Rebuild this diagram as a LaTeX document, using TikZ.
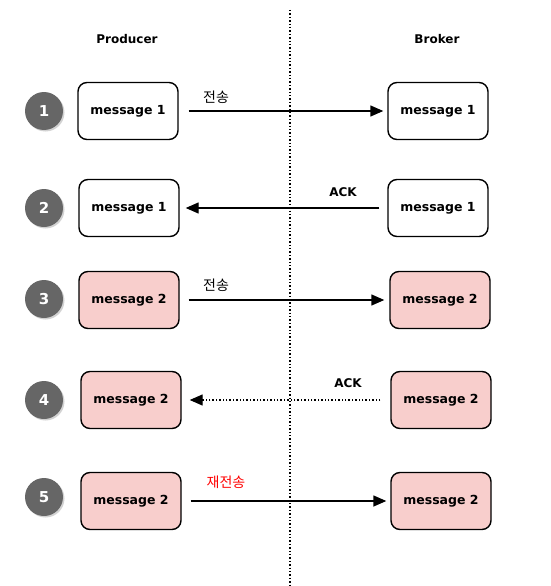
\documentclass[tikz,border=0pt]{standalone}
\usepackage{fontspec}
\setmainfont{DejaVu Sans}
\newfontfamily\krfont{Noto Sans CJK KR}
\usetikzlibrary{arrows.meta,shadows}
\definecolor{pinkfill}{HTML}{F8CECC}
\definecolor{krred}{HTML}{FF0000}
\definecolor{circgray}{HTML}{666666}
\begin{document}
\begin{tikzpicture}[x=1pt,y=-1pt,
  msgbox/.style={draw=black,line width=1.4pt,rounded corners=9pt,minimum width=100pt,minimum height=57pt,font=\bfseries\fontsize{12.5}{14}\selectfont,inner sep=0pt},
  pinkbox/.style={msgbox,fill=pinkfill},
  numcirc/.style={circle,fill=circgray,minimum size=38pt,inner sep=0pt,text=white,font=\bfseries\fontsize{15}{16}\selectfont,drop shadow={shadow xshift=1.5pt,shadow yshift=-1.5pt,fill=black!35}},
  hdr/.style={font=\bfseries\fontsize{12}{14}\selectfont},
  flow/.style={line width=1.4pt,-{Triangle[length=13pt,width=11pt]}},
  dflow/.style={flow,dotted},
  lbl/.style={font=\krfont\fontsize{14}{16}\selectfont},
  acklbl/.style={font=\bfseries\fontsize{12}{14}\selectfont}
]
\useasboundingbox (0,0) rectangle (551,586);
\coordinate (dtop) at (290,10);
\coordinate (dbot) at (290,586);
\draw[line width=1.4pt,dotted] (dtop) -- (dbot);
\node[hdr] (hp) at (127,39) {Producer};
\node[hdr] (hb) at (437,39) {Broker};
% row 1
\node[numcirc] (c1) at (44,111) {1};
\node[msgbox] (p1) at (128,111) {message 1};
\node[msgbox] (b1) at (438,111) {message 1};
\coordinate (s1) at ([xshift=10pt]p1.east);
\draw[flow] (s1) -- ([xshift=-4pt]b1.west);
\node[lbl] (l1) at (216,97) {전송};
% row 2
\node[numcirc] (c2) at (44,208) {2};
\node[msgbox] (p2) at (129,208) {message 1};
\node[msgbox] (b2) at (438,208) {message 1};
\coordinate (s2) at ([xshift=-8pt]b2.west);
\draw[flow] (s2) -- ([xshift=6pt]p2.east);
\node[acklbl] (l2) at (343,192) {ACK};
% row 3
\node[numcirc] (c3) at (44,299) {3};
\node[pinkbox] (p3) at (129,300) {message 2};
\node[pinkbox] (b3) at (440,300) {message 2};
\coordinate (s3) at ([xshift=9pt]p3.east);
\draw[flow] (s3) -- ([xshift=-5pt]b3.west);
\node[lbl] (l3) at (216,285) {전송};
% row 4
\node[numcirc] (c4) at (44,400) {4};
\node[pinkbox] (p4) at (131,400) {message 2};
\node[pinkbox] (b4) at (441,400) {message 2};
\coordinate (s4) at ([xshift=-10pt]b4.west);
\draw[dflow] (s4) -- ([xshift=8pt]p4.east);
\node[acklbl] (l4) at (348,383) {ACK};
% row 5
\node[numcirc] (c5) at (44,497) {5};
\node[pinkbox] (p5) at (131,501) {message 2};
\node[pinkbox] (b5) at (441,501) {message 2};
\coordinate (s5) at ([xshift=9pt]p5.east);
\draw[flow] (s5) -- ([xshift=-4pt]b5.west);
\node[lbl,text=krred] (l5) at (226,482) {재전송};
\end{tikzpicture}
\end{document}
